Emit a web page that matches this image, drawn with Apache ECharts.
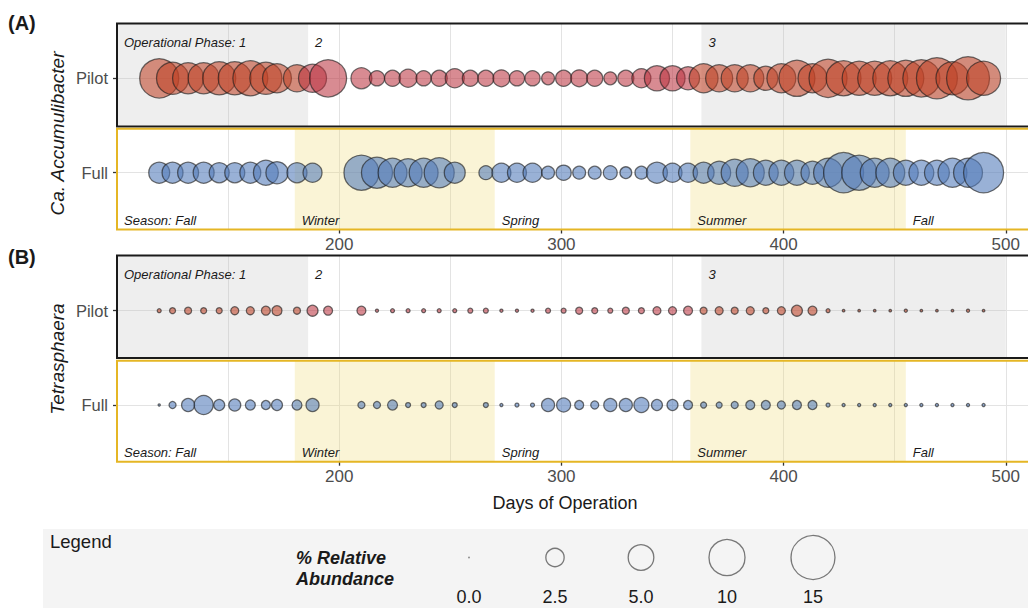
<!DOCTYPE html>
<html>
<head>
<meta charset="utf-8">
<script src="https://cdn.jsdelivr.net/npm/echarts@6/dist/echarts.min.js"></script>
<style>
  html, body { margin: 0; padding: 0; background: #fff; }
  #chart { width: 1028px; height: 608px; }
</style>
</head>
<body>
<div id="chart"></div>
<script>
// ---- sampling days ----
const pilotDays = [119,125,132,139,146,153,160,167,172,181,188,195,
  210,217,224,231,238,245,252,259,266,
  273,280,287,294,301,308,315,322,329,336,343,350,357,364,371,378,385,392,399,406,413,420,427,434,441,448,455,462,469,476,483,490];
const fullDays = [119,125,132,139,146,153,160,167,172,181,188,
  210,217,224,231,238,245,252,266,
  273,280,287,294,301,308,315,322,329,336,343,350,357,364,371,378,385,392,399,406,413,420,427,434,441,448,455,462,469,476,483,490];

// ---- % relative abundance ----
const accumulibacterPilot = [11.8,7.9,7.4,7.4,8.4,8.4,9.4,7.9,6.4,5.6,6.0,10.6,
  3.3,1.7,1.9,2.4,1.7,1.9,2.7,1.9,1.9,
  2.1,1.7,1.7,1.2,1.9,2.1,1.9,1.2,1.9,2.7,4.8,4.8,4.0,6.4,5.6,5.6,5.6,4.4,6.4,10.0,6.4,11.2,9.4,8.9,8.9,9.4,10.0,10.6,13.0,8.4,14.3,8.9];
const accumulibacterFull = [3.3,3.3,3.3,3.3,3.0,3.0,3.3,4.7,3.7,3.0,2.7,
  9.4,7.4,6.4,6.0,6.4,6.9,3.3,1.4,
  2.7,2.7,2.7,1.2,1.7,1.2,1.2,1.4,1.0,1.2,3.3,2.7,2.7,3.3,4.0,5.6,6.0,4.7,4.7,4.7,4.0,6.4,12.4,9.4,6.4,6.4,4.7,4.7,4.7,6.4,6.4,12.4];
const tetrasphaeraPilot = [0.09,0.23,0.33,0.23,0.23,0.44,0.44,0.56,0.70,0.33,0.86,0.56,
  0.56,0.05,0.09,0.09,0.09,0.09,0.09,0.15,0.15,
  0.05,0.05,0.05,0.15,0.15,0.33,0.23,0.15,0.33,0.23,0.44,0.44,0.56,0.33,0.44,0.33,0.44,0.23,0.44,0.86,0.56,0.09,0.03,0.03,0.03,0.03,0.05,0.03,0.03,0.03,0.05,0.03];
const tetrasphaeraFull = [0.02,0.33,1.23,2.70,0.86,1.04,0.70,0.56,0.86,0.70,1.23,
  0.33,0.33,0.70,0.15,0.15,0.44,0.15,0.15,
  0.05,0.09,0.09,1.23,1.43,0.56,0.44,1.23,1.23,1.65,0.86,0.86,0.56,0.23,0.23,0.33,0.56,0.56,0.44,0.56,0.56,0.09,0.05,0.05,0.05,0.05,0.05,0.05,0.05,0.05,0.05,0.05];

// ---- operational phases (pilot) and seasons (full scale) ----
const phaseEdges = [100, 186, 363, 500];
const phaseLabels = ['Operational Phase: 1', '2', '3'];
const seasonEdges = [100, 180, 270, 358, 455, 600];
const seasonLabels = ['Season: Fall', 'Winter', 'Spring', 'Summer', 'Fall'];

// ---- axis ticks and legend ----
const dayTicks = [200, 300, 400, 500];
const legendValues = [0, 2.5, 5, 10, 15];
const legendLabels = ['0.0', '2.5', '5.0', '10', '15'];

// ---------------------------------------------------------------
const FONT = '"Liberation Sans", Arial, Helvetica, sans-serif';
const LEFT = 117, PLOT_W = 1111;   // day axis runs 100..600; the page shows up to ~510
const GRAY = 'rgba(190,190,190,0.26)';
const YELLOW = 'rgba(240,220,120,0.30)';
const CLEAR = 'rgba(255,255,255,0)';
const GRID_LINE = '#e3e3e3';
const PILOT_EDGE = '#1a1a1a';
const FULL_EDGE = '#e5b625';

const panels = [
  { top: 23.5,  height: 103,   pilot: true,  yMax: 0.88,  label: 'Pilot', days: pilotDays, values: accumulibacterPilot },
  { top: 128.7, height: 100.8, pilot: false, yMax: 0.775, label: 'Full',  days: fullDays,  values: accumulibacterFull },
  { top: 255.5, height: 102.5, pilot: true,  yMax: 0.857, label: 'Pilot', days: pilotDays, values: tetrasphaeraPilot },
  { top: 360.7, height: 101,   pilot: false, yMax: 0.782, label: 'Full',  days: fullDays,  values: tetrasphaeraFull }
];

const sizeOf = v => 0.6 + 11.2 * Math.sqrt(v);

function pilotColor(day) {
  const inPhase2 = day >= phaseEdges[1] && day < phaseEdges[2];
  return inPhase2 ? 'rgba(186,48,61,0.70)' : 'rgba(191,66,38,0.72)';
}

function areas(edges, labels, fills) {
  return labels.map((name, i) => [
    { xAxis: edges[i], name: name, itemStyle: { color: fills[i] } },
    { xAxis: edges[i + 1] }
  ]);
}
const phaseFills = [GRAY, CLEAR, GRAY];
const seasonFills = [CLEAR, YELLOW, CLEAR, YELLOW, CLEAR];

const grids = [], xAxes = [], yAxes = [], series = [];

panels.forEach((p, i) => {
  grids.push({ left: LEFT, top: p.top, width: PLOT_W, height: p.height, containLabel: false, outerBoundsMode: 'none' });
  xAxes.push({
    gridIndex: i, type: 'value', min: 100, max: 600, interval: 100,
    axisLine: { show: false, onZero: false },
    axisTick: { show: !p.pilot, length: 4, customValues: dayTicks, lineStyle: { color: '#333', width: 1.3 } },
    axisLabel: { show: !p.pilot, customValues: dayTicks, fontSize: 17, color: '#4d4d4d', margin: 6, fontFamily: FONT },
    splitLine: { show: true, lineStyle: { color: GRID_LINE, width: 1 } },
    minorTick: { show: false, splitNumber: 2 },
    minorSplitLine: { show: true, lineStyle: { color: GRID_LINE, width: 1 } }
  });
  yAxes.push({
    gridIndex: i, type: 'value', inverse: p.pilot, min: -1, max: p.yMax, interval: 1,
    axisLine: { show: false, onZero: false },
    axisTick: { show: true, length: 4, customValues: [0], lineStyle: { color: '#333', width: 1.3 } },
    axisLabel: { customValues: [0], formatter: v => (v === 0 ? p.label : ''), fontSize: 16.5, color: '#4d4d4d', margin: 9, fontFamily: FONT },
    splitLine: { show: true, lineStyle: { color: GRID_LINE, width: 1 } }
  });
  const markArea = p.pilot
    ? { silent: true, data: areas(phaseEdges, phaseLabels, phaseFills),
        label: { position: 'insideTopLeft', distance: 7, offset: [0, 5], fontSize: 13, fontStyle: 'italic', color: '#1a1a1a', fontFamily: FONT } }
    : { silent: true, data: areas(seasonEdges, seasonLabels, seasonFills),
        label: { position: 'insideBottomLeft', distance: 7, offset: [0, 4], fontSize: 13, fontStyle: 'italic', color: '#1a1a1a', fontFamily: FONT } };
  series.push({
    type: 'scatter', xAxisIndex: i, yAxisIndex: i,
    data: p.days.map((d, k) => [d, 0, p.values[k]]),
    symbol: 'circle',
    symbolSize: v => sizeOf(v[2]),
    itemStyle: {
      color: p.pilot ? (prm => pilotColor(prm.value[0])) : 'rgba(82,124,186,0.74)',
      borderColor: 'rgba(30,30,30,0.8)', borderWidth: 1.25
    },
    emphasis: { disabled: true },
    markArea: markArea
  });
});

// size legend
grids.push({ left: 426, top: 529, width: 430, height: 57, outerBoundsMode: 'none' });
xAxes.push({
  gridIndex: 4, type: 'category', data: legendLabels,
  axisLine: { show: false }, axisTick: { show: false }, splitLine: { show: false },
  axisLabel: { fontSize: 18, color: '#1a1a1a', margin: 2, fontFamily: FONT }
});
yAxes.push({ gridIndex: 4, type: 'value', min: -1, max: 1, show: false });
series.push({
  type: 'scatter', xAxisIndex: 4, yAxisIndex: 4,
  data: legendValues.map((v, k) => [k, 0, v]),
  symbol: 'circle',
  symbolSize: v => sizeOf(v[2]),
  itemStyle: { color: 'rgba(0,0,0,0)', borderColor: '#595959', borderWidth: 1.3 },
  emphasis: { disabled: true }
});

// panel frames, drawn over the shading
const frames = panels.map(p => ({
  type: 'rect', z: 50, silent: true,
  shape: { x: LEFT, y: p.top, width: PLOT_W, height: p.height },
  style: { fill: null, stroke: p.pilot ? PILOT_EDGE : FULL_EDGE, lineWidth: 2 }
}));

function label(text, x, y, font, extra) {
  return Object.assign({
    type: 'text', x: x, y: y, z: 60, silent: true,
    style: { text: text, font: font, fill: '#1a1a1a', verticalAlign: 'middle', textVerticalAlign: 'middle' }
  }, extra || {});
}
function centered(el) {
  el.style.align = 'center'; el.style.textAlign = 'center';
  return el;
}

const texts = [
  label('(A)', 8, 23, 'bold 20px ' + FONT),
  label('(B)', 8, 257, 'bold 20px ' + FONT),
  centered(label('Ca. Accumulibacter', 57, 133.5, 'italic 19px ' + FONT, { rotation: Math.PI / 2 })),
  centered(label('Tetrasphaera', 57, 359, 'italic 19px ' + FONT, { rotation: Math.PI / 2 })),
  centered(label('Days of Operation', 565, 503, '18px ' + FONT)),
  label('Legend', 50, 541.5, '18.5px ' + FONT),
  label('% Relative', 296, 557.5, 'italic bold 18px ' + FONT),
  label('Abundance', 296, 579, 'italic bold 18px ' + FONT)
];

const legendBox = {
  type: 'rect', z: 0, silent: true,
  shape: { x: 43, y: 529, width: 1000, height: 90 },
  style: { fill: '#f4f4f4' }
};

const chart = echarts.init(document.getElementById('chart'), null, { renderer: 'svg' });
chart.setOption({
  animation: false,
  backgroundColor: '#ffffff',
  textStyle: { fontFamily: FONT },
  grid: grids,
  xAxis: xAxes,
  yAxis: yAxes,
  series: series,
  graphic: [legendBox].concat(frames, texts)
});
</script>
</body>
</html>
